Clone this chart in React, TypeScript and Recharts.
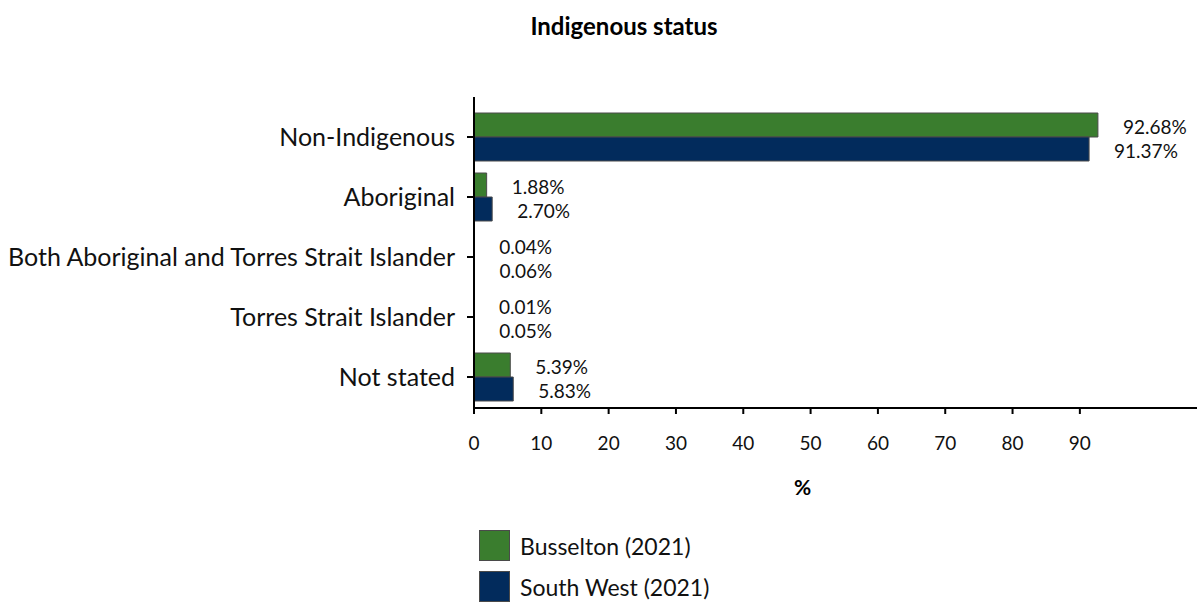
import { BarChart, Bar, XAxis, YAxis, LabelList } from 'recharts'

const categories = [
  'Non-Indigenous',
  'Aboriginal',
  'Both Aboriginal and Torres Strait Islander',
  'Torres Strait Islander',
  'Not stated',
]
const busselton = [92.68, 1.88, 0.04, 0.01, 5.39]
const southWest = [91.37, 2.7, 0.06, 0.05, 5.83]
const xTicks = [0, 10, 20, 30, 40, 50, 60, 70, 80, 90]

const GREEN = '#3a7d2e'
const BLUE = '#022b5c'
const FONT = 'Lato, "Open Sans", sans-serif'

const data = categories.map((name, i) => ({
  name,
  busselton: busselton[i],
  southWest: southWest[i],
}))

function ValueLabel(props: any) {
  const { x, y, width, height, value } = props
  return (
    <text
      x={x + width + 25}
      y={y + height / 2 + 1}
      fontSize={19}
      fontFamily={FONT}
      fill="#111"
      dominantBaseline="central"
    >
      {`${Number(value).toFixed(2)}%`}
    </text>
  )
}

function LegendBox() {
  const items = [
    { label: 'Busselton (2021)', color: GREEN },
    { label: 'South West (2021)', color: BLUE },
  ]
  return (
    <div style={{ position: 'absolute', left: 479, top: 530 }}>
      {items.map((it) => (
        <div key={it.label} style={{ display: 'flex', alignItems: 'center', height: 31, marginBottom: 10 }}>
          <div
            style={{
              width: 29,
              height: 29,
              background: it.color,
              border: '1px solid #4a4a4a',
              marginRight: 10,
            }}
          />
          <span style={{ fontFamily: FONT, fontSize: 23, color: '#111' }}>{it.label}</span>
        </div>
      ))}
    </div>
  )
}

export default function App() {
  return (
    <div style={{ position: 'absolute', left: 0, top: 0, width: 1198, height: 602, background: '#fff' }}>
      <div
        style={{
          position: 'absolute',
          left: 424,
          top: 11,
          width: 400,
          textAlign: 'center',
          fontFamily: FONT,
          fontWeight: 700,
          fontSize: 24,
          color: '#000',
          whiteSpace: 'nowrap',
        }}
      >
        Indigenous status
      </div>
      <BarChart
        width={1198}
        height={602}
        data={data}
        layout="vertical"
        margin={{ top: 97, right: 1, bottom: 94, left: 0 }}
        barGap={0}
        barSize={24}
      >
        <XAxis
          type="number"
          domain={[0, 107.4]}
          ticks={xTicks}
          allowDataOverflow
          axisLine={{ stroke: '#000', strokeWidth: 2 }}
          tickLine={{ stroke: '#000', strokeWidth: 2 }}
          tickSize={6}
          tickMargin={23}
          tick={{ fontSize: 19, fontFamily: FONT, fill: '#111' }}
          height={100}
          label={{
            value: '%',
            position: 'insideTop',
            offset: 72,
            dx: -33,
            style: { fontSize: 21, fontWeight: 700, fontFamily: FONT, fill: '#000' },
          }}
        />
        <YAxis
          type="category"
          dataKey="name"
          width={474}
          padding={{ top: 10, bottom: 1 }}
          axisLine={{ stroke: '#000', strokeWidth: 2 }}
          tickLine={{ stroke: '#000', strokeWidth: 2 }}
          tickSize={7}
          tickMargin={12}
          tick={{ fontSize: 25, fontFamily: FONT, fill: '#111' }}
          interval={0}
        />
        <Bar dataKey="busselton" name="Busselton (2021)" fill={GREEN} stroke="#4a4a4a" strokeWidth={1} isAnimationActive={false}>
          <LabelList dataKey="busselton" content={ValueLabel} />
        </Bar>
        <Bar dataKey="southWest" name="South West (2021)" fill={BLUE} stroke="#4a4a4a" strokeWidth={1} isAnimationActive={false}>
          <LabelList dataKey="southWest" content={ValueLabel} />
        </Bar>
      </BarChart>
      <LegendBox />
    </div>
  )
}
